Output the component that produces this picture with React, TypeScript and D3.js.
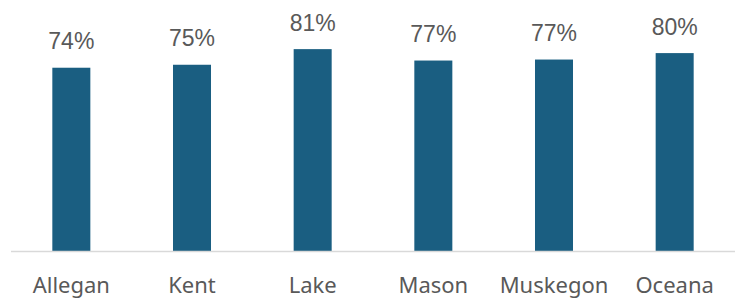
import React, { useEffect, useRef } from 'react';
import * as d3 from 'd3';

const counties = ['Allegan', 'Kent', 'Lake', 'Mason', 'Muskegon', 'Oceana'];
const shares = [0.739, 0.751, 0.814, 0.768, 0.772, 0.798];

const W = 741;
const H = 299;

const App: React.FC = () => {
  const svgRef = useRef<SVGSVGElement>(null);

  useEffect(() => {
    if (!svgRef.current) return;
    const svg = d3.select(svgRef.current);
    svg.selectAll('*').remove();

    const baseline = 251;

    const x = d3.scaleBand()
      .domain(counties)
      .range([11, 735])
      .paddingInner(0.685)
      .paddingOuter(0.3425);

    const y = d3.scaleLinear()
      .domain([0, 1])
      .range([baseline, 3]);

    const data = counties.map((c, i) => ({ county: c, value: shares[i] }));

    // Bars
    svg.selectAll('.bar')
      .data(data)
      .enter().append('rect')
      .attr('class', 'bar')
      .attr('x', d => x(d.county) || 0)
      .attr('width', x.bandwidth())
      .attr('y', d => y(d.value))
      .attr('height', d => baseline - y(d.value))
      .attr('fill', '#1a5e81');

    // Baseline
    svg.append('line')
      .attr('x1', 11)
      .attr('x2', 735)
      .attr('y1', baseline + 0.5)
      .attr('y2', baseline + 0.5)
      .attr('stroke', '#d9d9d9')
      .attr('stroke-width', 1.5);

    // Value labels
    svg.selectAll('.label')
      .data(data)
      .enter().append('text')
      .attr('class', 'label')
      .attr('x', d => (x(d.county) || 0) + x.bandwidth() / 2)
      .attr('y', d => y(d.value) - 18.5)
      .attr('text-anchor', 'middle')
      .style('font-family', '"Liberation Sans", Arial, sans-serif')
      .style('font-size', '23px')
      .style('fill', '#595959')
      .text(d => d3.format('.0%')(d.value));

    // Category labels
    svg.selectAll('.cat')
      .data(data)
      .enter().append('text')
      .attr('class', 'cat')
      .attr('x', d => (x(d.county) || 0) + x.bandwidth() / 2)
      .attr('y', 293)
      .attr('text-anchor', 'middle')
      .style('font-family', '"Noto Sans", "Open Sans", sans-serif')
      .style('font-size', '22px')
      .style('fill', '#595959')
      .text(d => d.county);
  }, []);

  return (
    <div style={{ position: 'absolute', left: 0, top: 0, background: 'white' }}>
      <svg ref={svgRef} width={W} height={H} style={{ display: 'block' }}></svg>
    </div>
  );
};

export default App;
